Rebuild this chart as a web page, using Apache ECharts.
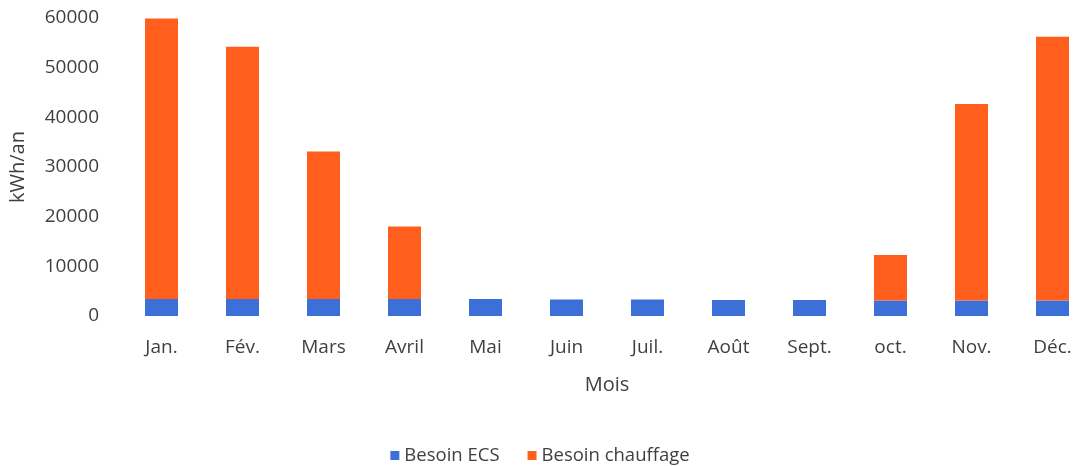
<!DOCTYPE html>
<html>
<head>
<meta charset="utf-8">
<script src="https://cdn.jsdelivr.net/npm/echarts@6/dist/echarts.min.js"></script>
<style>
  html, body { margin: 0; padding: 0; background: #fff; }
  #chart { width: 1080px; height: 466px; }
</style>
</head>
<body>
<div id="chart"></div>
<script>
// mois
var months = ["Jan.", "Fév.", "Mars", "Avril", "Mai", "Juin", "Juil.", "Août", "Sept.", "oct.", "Nov.", "Déc."];
// besoin ECS (kWh)
var besoinECS = [3400, 3400, 3400, 3400, 3400, 3300, 3300, 3200, 3200, 3100, 3100, 3100];
// besoin chauffage (kWh)
var besoinChauffage = [56500, 50800, 29700, 14600, 0, 0, 0, 0, 0, 9200, 39600, 53100];
var yTicks = [0, 10000, 20000, 30000, 40000, 50000, 60000];

var textColor = "#3f3f3f";
var font = "'Open Sans', 'Noto Sans', sans-serif";

var myChart = echarts.init(document.getElementById("chart"));
var option = {
  color: ["#3d6fd8", "#ff5e1c"],
  animation: false,
  textStyle: { fontFamily: font },
  legend: {
    top: 441,
    left: "center",
    itemWidth: 9,
    itemHeight: 9,
    itemGap: 28,
    icon: "rect",
    textStyle: { color: textColor, fontSize: 18.5, fontFamily: font },
    data: ["Besoin ECS", "Besoin chauffage"]
  },
  grid: {
    left: 121,
    width: 972,
    top: 18,
    height: 298,
    outerBoundsMode: "none",
    containLabel: false
  },
  xAxis: {
    type: "category",
    data: months,
    name: "Mois",
    nameLocation: "middle",
    nameGap: 59,
    nameTextStyle: { color: textColor, fontSize: 20, fontFamily: font },
    axisLine: { show: false },
    axisTick: { show: false },
    axisLabel: { color: textColor, fontSize: 19, margin: 22, fontFamily: font }
  },
  yAxis: {
    type: "value",
    min: yTicks[0],
    max: yTicks[yTicks.length - 1],
    interval: 10000,
    name: "kWh/an",
    nameLocation: "middle",
    nameGap: 93,
    nameTextStyle: { color: textColor, fontSize: 20, fontFamily: font },
    axisLine: { show: false },
    axisTick: { show: false },
    splitLine: { show: false },
    axisLabel: {
      color: textColor,
      fontSize: 19,
      margin: 22,
      fontFamily: font,
      formatter: function (v) { return String(v); }
    }
  },
  series: [
    {
      name: "Besoin ECS",
      type: "bar",
      stack: "total",
      barWidth: 33,
      data: besoinECS
    },
    {
      name: "Besoin chauffage",
      type: "bar",
      stack: "total",
      barWidth: 33,
      data: besoinChauffage
    }
  ]
};
myChart.setOption(option);
</script>
</body>
</html>
